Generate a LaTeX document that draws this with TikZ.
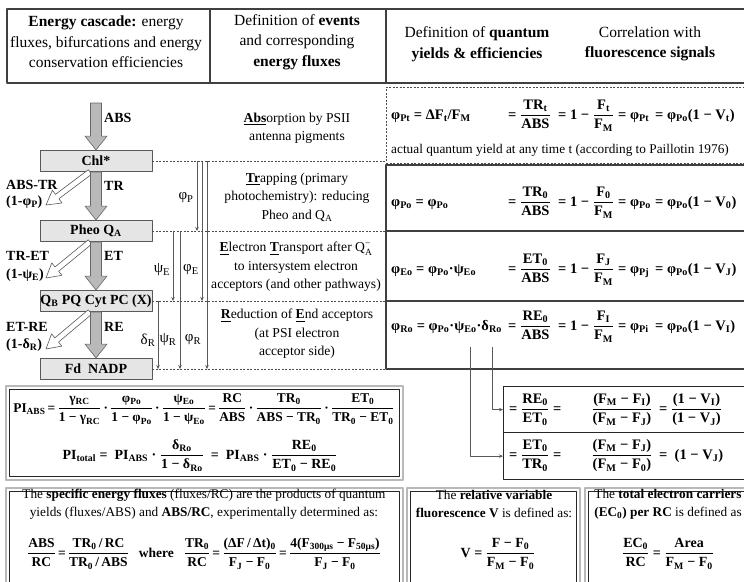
\documentclass[tikz,border=0pt]{standalone}
\usepackage{amsmath}
\usepackage{fontspec}
\setmainfont{Liberation Serif}
\usepackage{tikz}
\usetikzlibrary{arrows.meta, positioning, calc}

\newcommand{\ssub}[1]{\textsubscript{#1}}
\newcommand{\qfrac}[2]{\ensuremath{\genfrac{}{}{0.6pt}{0}{\text{#1}}{\text{#2}}}}

\tikzset{
  stage/.style={draw=gray!70!black, fill=gray!20, line width=0.9pt, minimum width=112pt,
    minimum height=21pt, inner sep=0pt, font=\fontsize{14}{16}\selectfont\bfseries},
  flux/.style={fill=gray!55, draw=gray!80!black, line width=0.6pt},
  loss/.style={fill=white, draw=gray!70!black, line width=0.6pt},
  yieldarr/.style={draw=gray!70!black, line width=0.6pt, -{Stealth[length=4pt,width=3.5pt]}},
  rowline/.style={gray!60!black, line width=0.8pt, dash pattern=on 2pt off 1.5pt},
  rowbox/.style={draw=gray!50!black, line width=1.2pt},
  dblframe/.style={draw=gray!55, line width=2.4pt},
  innerframe/.style={draw=gray!30!black, line width=0.8pt},
  lbl/.style={inner sep=0pt, anchor=west, font=\fontsize{14}{18}\selectfont\bfseries},
  ylbl/.style={inner sep=0pt, font=\fontsize{15}{18}\selectfont},
  event/.style={inner sep=0pt, align=center, font=\fontsize{13.6}{18.5}\selectfont},
  head/.style={inner sep=0pt, align=center, font=\fontsize{15.5}{20.5}\selectfont},
  eq/.style={inner sep=0pt, anchor=base west, font=\fontsize{14.5}{18}\selectfont\bfseries},
  note/.style={inner sep=0pt, align=center, font=\fontsize{13.3}{18}\selectfont},
}

\begin{document}
\begin{tikzpicture}[x=1pt, y=-1pt, line join=round]
  \useasboundingbox (0,0) rectangle (744,581);
  \clip (0,0) rectangle (744,581);

  % Header
  \draw[rowbox] (7,9) rectangle (752,83);
  \draw[rowbox] (210,9) -- (210,83);
  \draw[rowbox] (386,9) -- (386,83);
  \node[head] (hcascade) at (106,42) {\textbf{Energy cascade:} energy\\fluxes, bifurcations and energy\\conservation efficiencies};
  \node[head] (hevents) at (297,42) {Definition of \textbf{events}\\and corresponding\\\textbf{energy fluxes}};
  \node[head] (hyields) at (477,44) {Definition of \textbf{quantum}\\\textbf{yields \& efficiencies}};
  \node[head] (hsignals) at (650,44) {Correlation with\\\textbf{fluorescence signals}};

  % Energy cascade boxes
  \node[stage] (chl) at (96,161) {Chl*};
  \node[stage] (pheo) at (96,231) {Pheo Q\ssub{A}};
  \node[stage] (qb) at (96,301) {Q\ssub{B} PQ Cyt PC (X)};
  \node[stage] (fd) at (96,369) {Fd\ \ NADP};
  \coordinate (absin) at (96,103);

  % Losses (hollow arrows)
  \coordinate (tipP) at (46,205);
  \coordinate (tipE) at (46,278);
  \coordinate (tipR) at (46,349);
  \foreach \b/\t in {chl/tipP, pheo/tipE, qb/tipR} {
    \coordinate (s) at ($(\b.south)+(-6,0)$);
    \filldraw[loss] ($(s)!2.8pt!90:(\t)$) -- ($(\t)!14pt!(s)!2.8pt!90:(\t)$)
      -- ($(\t)!14pt!(s)!8pt!90:(\t)$) -- (\t) -- ($(\t)!14pt!(s)!8pt!-90:(\t)$)
      -- ($(\t)!14pt!(s)!2.8pt!-90:(\t)$) -- ($(s)!2.8pt!-90:(\t)$) -- cycle;
  }

  % Energy fluxes (grey arrows)
  \foreach \a/\b in {absin/chl.north, chl.south/pheo.north, pheo.south/qb.north, qb.south/fd.north} {
    \filldraw[flux] ($(\a)+(-5.5,0)$) -- ($(\b)+(-5.5,-14)$) -- ($(\b)+(-11,-14)$) -- (\b)
      -- ($(\b)+(11,-14)$) -- ($(\b)+(5.5,-14)$) -- ($(\a)+(5.5,0)$) -- cycle;
  }

  % Flux labels
  \node[lbl] (labs) at (104,118) {ABS};
  \node[lbl] (ltr) at (104,186) {TR};
  \node[lbl] (let) at (104,256) {ET};
  \node[lbl] (lre) at (104,327) {RE};
  \node[lbl] (labstr) at (6,185) {ABS-TR};
  \node[lbl] (lphip) at (6,202) {(1-φ\ssub{P})};
  \node[lbl] (ltret) at (6,256) {TR-ET};
  \node[lbl] (lpsie) at (6,275) {(1-ψ\ssub{E})};
  \node[lbl] (letre) at (6,327) {ET-RE};
  \node[lbl] (ldeltar) at (6,345) {(1-δ\ssub{R})};

  % Dashed levels
  \coordinate (sep) at (386,0);
  \draw[rowline] (chl.east) -- (chl.east -| sep);
  \draw[rowline] (pheo.east) -- (pheo.east -| sep);
  \draw[rowline] (qb.east) -- (qb.east -| sep);
  \draw[rowline] (fd.east) -- (fd.east -| sep);

  % Yields (thin arrows)
  \coordinate (xdR) at (158,0);
  \coordinate (xpsiE) at (173,0);
  \coordinate (xpsiR) at (180,0);
  \coordinate (xphiP) at (197,0);
  \coordinate (xphiE) at (202,0);
  \coordinate (xphiR) at (207,0);
  \draw[yieldarr] (xphiP |- chl.east) -- (xphiP |- pheo.east);
  \draw[yieldarr] (xphiE |- chl.east) -- (xphiE |- qb.east);
  \draw[yieldarr] (xphiR |- chl.east) -- (xphiR |- fd.east);
  \draw[yieldarr] (xpsiE |- pheo.east) -- (xpsiE |- qb.east);
  \draw[yieldarr] (xpsiR |- pheo.east) -- (xpsiR |- fd.east);
  \draw[yieldarr] (xdR |- qb.east) -- (xdR |- fd.east);
  \node[ylbl] (nphiP) at (186,198) {φ\ssub{P}};
  \node[ylbl] (npsiE) at (162,270) {ψ\ssub{E}};
  \node[ylbl] (nphiE) at (191,270) {φ\ssub{E}};
  \node[ylbl] (ndR) at (148,340) {δ\ssub{R}};
  \node[ylbl] (npsiR) at (168,340) {ψ\ssub{R}};
  \node[ylbl] (nphiR) at (193,340) {φ\ssub{R}};

  % Events
  \node[event] (eabs) at (297,128) {\underline{\textbf{Abs}}orption by PSII\\antenna pigments};
  \node[event] (etr) at (297,197) {\underline{\textbf{Tr}}apping (primary\\photochemistry): reducing\\Pheo and Q\ssub{A}};
  \node[event] (eet) at (296,267) {\underline{\textbf{E}}lectron \underline{\textbf{T}}ransport after Q\ensuremath{_{\text{A}}^{\text{−}}}\\to intersystem electron\\acceptors (and other pathways)};
  \node[event] (ere) at (297,334) {\underline{\textbf{R}}eduction of \underline{\textbf{E}}nd acceptors\\(at PSI electron\\acceptor side)};

  % Quantum yield rows
  \draw[rowline] (sep |- chl.east) -- (386,87) -- (752,87);
  \draw[rowline] (386,163) -- (752,163);
  \draw[rowbox] (386,165) rectangle (752,231);
  \draw[rowbox] (386,231) rectangle (752,301);
  \draw[rowbox] (386,301) rectangle (752,369);

  \node[eq] (pt1) at (391,119) {φ\ssub{Pt} = ΔF\ssub{t}/F\ssub{M}};
  \node[eq] (pt2) at (508,119) {= \qfrac{TR\ssub{t}}{ABS}};
  \node[eq] (pt3) at (558,119) {= 1 − \qfrac{F\ssub{t}}{F\ssub{M}}};
  \node[eq] (pt4) at (618,119) {= φ\ssub{Pt}};
  \node[eq] (pt5) at (655,119) {= φ\ssub{Po}(1 − V\ssub{t})};
  \node[note, anchor=west] (paillotin) at (391,150) {actual quantum yield at any time t (according to Paillotin 1976)};

  \node[eq] (po1) at (391,206) {φ\ssub{Po} = φ\ssub{Po}};
  \node[eq] (po2) at (508,206) {= \qfrac{TR\ssub{0}}{ABS}};
  \node[eq] (po3) at (558,206) {= 1 − \qfrac{F\ssub{0}}{F\ssub{M}}};
  \node[eq] (po4) at (618,206) {= φ\ssub{Po}};
  \node[eq] (po5) at (655,206) {= φ\ssub{Po}(1 − V\ssub{0})};

  \node[eq] (eo1) at (391,273) {φ\ssub{Eo} = φ\ssub{Po}·ψ\ssub{Eo}};
  \node[eq] (eo2) at (508,273) {= \qfrac{ET\ssub{0}}{ABS}};
  \node[eq] (eo3) at (558,273) {= 1 − \qfrac{F\ssub{J}}{F\ssub{M}}};
  \node[eq] (eo4) at (618,273) {= φ\ssub{Pj}};
  \node[eq] (eo5) at (655,273) {= φ\ssub{Po}(1 − V\ssub{J})};

  \node[eq] (ro1) at (391,330) {φ\ssub{Ro} = φ\ssub{Po}·ψ\ssub{Eo}·δ\ssub{Ro}};
  \node[eq] (ro2) at (508,330) {= \qfrac{RE\ssub{0}}{ABS}};
  \node[eq] (ro3) at (558,330) {= 1 − \qfrac{F\ssub{I}}{F\ssub{M}}};
  \node[eq] (ro4) at (618,330) {= φ\ssub{Pi}};
  \node[eq] (ro5) at (655,330) {= φ\ssub{Po}(1 − V\ssub{I})};

  % Efficiency ratios
  \node[draw=gray!30!black, line width=1.2pt, minimum width=250pt, minimum height=46pt,
    anchor=north west, inner sep=0pt] (ratioR) at (503,386) {};
  \node[draw=gray!30!black, line width=1.2pt, minimum width=250pt, minimum height=47pt,
    anchor=north west, inner sep=0pt] (ratioE) at (503,432) {};
  \node[eq] (rr1) at (509,413) {= \qfrac{RE\ssub{0}}{ET\ssub{0}}};
  \node[eq] (rr2) at (553,413) {=};
  \node[eq, anchor=base] (rr3) at (622,413) {\qfrac{(F\ssub{M} − F\ssub{I})}{(F\ssub{M} − F\ssub{J})}};
  \node[eq] (rr4) at (659,413) {= \qfrac{(1 − V\ssub{I})}{(1 − V\ssub{J})}};
  \node[eq] (re1) at (509,459) {= \qfrac{ET\ssub{0}}{TR\ssub{0}}};
  \node[eq] (re2) at (553,459) {=};
  \node[eq, anchor=base] (re3) at (622,459) {\qfrac{(F\ssub{M} − F\ssub{J})}{(F\ssub{M} − F\ssub{0})}};
  \node[eq] (re4) at (659,459) {= \ (1 − V\ssub{J})};

  \coordinate (psiEo) at (470,347);
  \coordinate (deltaRo) at (492,347);
  \draw[yieldarr] (deltaRo) |- (ratioR.west);
  \draw[yieldarr] (psiEo) |- (ratioE.west);

  % Performance index
  \draw[dblframe] (6,386) rectangle (403,480);
  \draw[innerframe] (9.5,389.5) rectangle (399.5,476.5);
  \node[eq, anchor=base, font=\fontsize{13.4}{18}\selectfont\bfseries] (piabs) at (204,412) {PI\ssub{ABS}\,=\,\qfrac{γ\ssub{RC}}{1 − γ\ssub{RC}}\,·\,\qfrac{φ\ssub{Po}}{1 − φ\ssub{Po}}\,·\,\qfrac{ψ\ssub{Eo}}{1 − ψ\ssub{Eo}}\,=\,\qfrac{RC}{ABS}\,·\,\qfrac{TR\ssub{0}}{ABS − TR\ssub{0}}\,·\,\qfrac{ET\ssub{0}}{TR\ssub{0} − ET\ssub{0}}};
  \node[eq, anchor=base, font=\fontsize{14}{18}\selectfont\bfseries] (pitotal) at (200,459) {PI\ssub{total} = \ PI\ssub{ABS} · \qfrac{δ\ssub{Ro}}{1 − δ\ssub{Ro}} \ = \ PI\ssub{ABS} · \qfrac{RE\ssub{0}}{ET\ssub{0} − RE\ssub{0}}};

  % Definitions
  \draw[dblframe] (6,488) rectangle (403,600);
  \draw[innerframe] (9.5,491.5) rectangle (399.5,600);
  \draw[dblframe] (407,488) rectangle (580,600);
  \draw[innerframe] (410.5,491.5) rectangle (576.5,600);
  \draw[dblframe] (585,488) rectangle (760,600);
  \draw[innerframe] (588.5,491.5) rectangle (760,600);

  \node[note] (specific) at (204,504) {The \textbf{specific energy fluxes} (fluxes/RC) are the products of quantum\\yields (fluxes/ABS) and \textbf{ABS/RC}, experimentally determined as:};
  \node[eq, anchor=base, font=\fontsize{13.5}{18}\selectfont\bfseries] (absrc) at (204,557) {\qfrac{ABS}{RC}\,=\,\qfrac{TR\ssub{0}\,/\,RC}{TR\ssub{0}\,/\,ABS}\hspace{10pt}where\hspace{10pt}\qfrac{TR\ssub{0}}{RC}\,=\,\qfrac{(ΔF\,/\,Δt)\ssub{0}}{F\ssub{J} − F\ssub{0}}\,=\,\qfrac{4(F\ssub{300μs} − F\ssub{50μs})}{F\ssub{J} − F\ssub{0}}};
  \node[note] (relvar) at (494,504) {The \textbf{relative variable}\\\textbf{fluorescence V} is defined as:};
  \node[eq, anchor=base, font=\fontsize{14}{18}\selectfont\bfseries] (vdef) at (498,557) {V = \qfrac{F − F\ssub{0}}{F\ssub{M} − F\ssub{0}}};
  \node[note] (carriers) at (668,504) {The \textbf{total electron carriers}\\\textbf{(EC\ssub{0}) per RC} is defined as};
  \node[eq, anchor=base, font=\fontsize{14}{18}\selectfont\bfseries] (ecdef) at (668,557) {\qfrac{EC\ssub{0}}{RC} = \qfrac{Area}{F\ssub{M} − F\ssub{0}}};
\end{tikzpicture}
\end{document}
